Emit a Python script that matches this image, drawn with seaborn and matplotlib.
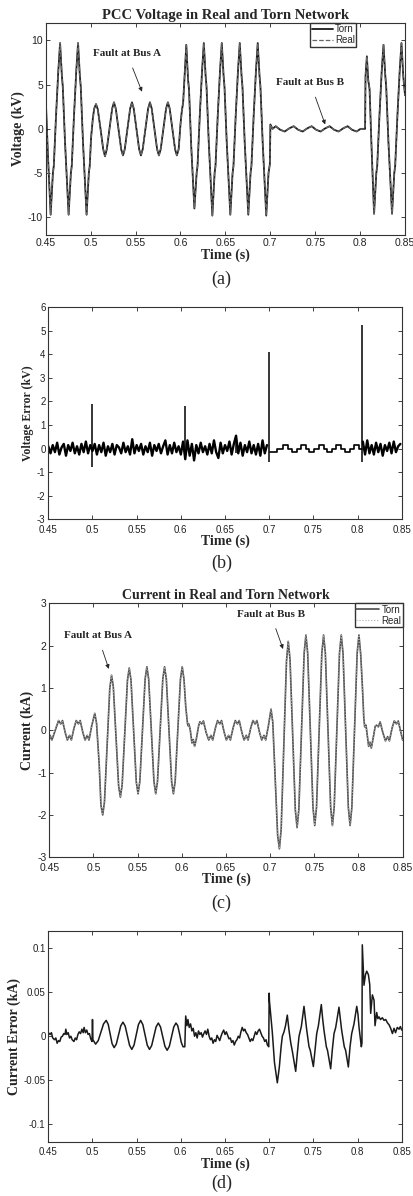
import numpy as np
import pandas as pd
import matplotlib
matplotlib.use("Agg")
import matplotlib.pyplot as plt
import seaborn as sns

# ---------------- data ----------------
# (a) PCC voltage, kV  (knots of the waveform)
volt_t = [0.450, 0.4525, 0.4555, 0.458, 0.459, 0.4615, 0.464, 0.466, 0.468, 0.469, 0.4715,
          0.4755, 0.478, 0.479, 0.4815, 0.484, 0.486, 0.488, 0.489, 0.4915,
          0.4955, 0.498, 0.499, 0.5005,
          0.5025, 0.504, 0.506, 0.508, 0.511, 0.514, 0.516, 0.518, 0.521, 0.524, 0.526, 0.528,
          0.531, 0.534, 0.536, 0.538, 0.541, 0.544, 0.546, 0.548, 0.551, 0.554, 0.556, 0.558,
          0.561, 0.564, 0.566, 0.568, 0.571, 0.574, 0.576, 0.578, 0.581, 0.584, 0.586, 0.588,
          0.591, 0.594, 0.596, 0.598, 0.600, 0.6015, 0.603,
          0.6065, 0.6085, 0.6095, 0.612, 0.6155, 0.618, 0.619, 0.6215, 0.624, 0.626, 0.628, 0.629,
          0.6315, 0.6355, 0.638, 0.639, 0.6415, 0.644, 0.646, 0.648, 0.649, 0.6515,
          0.6555, 0.658, 0.659, 0.6615, 0.664, 0.666, 0.668, 0.669, 0.6715,
          0.6755, 0.678, 0.679, 0.6815, 0.684, 0.686, 0.688, 0.689, 0.6915,
          0.6955, 0.698, 0.6995, 0.7001,
          0.7025, 0.706, 0.711, 0.716, 0.721, 0.726, 0.731, 0.736, 0.741, 0.746, 0.751,
          0.756, 0.761, 0.766, 0.771, 0.776, 0.781, 0.786, 0.791, 0.796, 0.8005, 0.8055,
          0.806, 0.8075, 0.809, 0.8105, 0.8125, 0.8155, 0.818, 0.819, 0.8215, 0.824, 0.826,
          0.828, 0.829, 0.8315, 0.8355, 0.838, 0.839, 0.8415, 0.844, 0.846, 0.848, 0.849, 0.850]
volt_v = [3.5, -3.0, -9.7, -5.0, -4.2, 1.5, 6.5, 9.7, 6.0, 4.8, -1.5,
          -9.7, -5.0, -4.2, 1.5, 6.5, 9.7, 6.0, 4.8, -1.5,
          -9.7, -5.0, -4.2, -1.0,
          1.2, 2.3, 2.8, 2.2, 0.0, -2.3, -3.1, -2.3, 0.0, 2.3, 3.0, 2.3,
          0.0, -2.3, -3.0, -2.3, 0.0, 2.3, 3.0, 2.3, 0.0, -2.3, -3.0, -2.3,
          0.0, 2.3, 3.0, 2.3, 0.0, -2.3, -3.0, -2.3, 0.0, 2.3, 3.0, 2.3,
          0.0, -2.3, -3.0, -2.3, 0.5, 2.0, 3.0,
          9.5, 5.5, 4.5, -2.0, -9.0, -5.0, -4.2, 1.5, 6.5, 9.7, 6.0, 4.8,
          -1.5, -9.8, -5.0, -4.2, 1.5, 6.5, 9.7, 6.0, 4.8, -1.5,
          -9.7, -5.0, -4.2, 1.5, 6.5, 9.7, 6.0, 4.8, -1.5,
          -9.7, -5.0, -4.2, 1.5, 6.5, 9.7, 6.0, 4.8, -1.5,
          -9.8, -5.0, -4.0, 0.5,
          0.0, 0.3, -0.1, -0.3, 0.05, 0.3, -0.1, -0.3, 0.05, 0.3, -0.1,
          -0.3, 0.05, 0.3, -0.1, -0.3, 0.05, 0.3, -0.1, -0.3, 0.0, 0.0,
          6.0, 8.2, 5.5, 4.5, -1.5, -9.6, -5.0, -4.2, 1.5, 6.5, 9.5,
          6.0, 4.8, -1.5, -9.6, -5.0, -4.2, 1.5, 6.5, 9.7, 6.0, 4.8, 3.8]

# (b) voltage error, kV
verr_noise = [0.10, -0.20, 0.15, -0.15, 0.25, -0.25, 0.05, 0.20, -0.30, 0.15,
              -0.10, 0.25, -0.20, 0.10, -0.25, 0.20, -0.15, 0.30, -0.20, 0.15,
              -0.10, 0.20, -0.25, 0.15, -0.15, 0.25, -0.30, 0.10, -0.15, 0.20,
              -0.25, 0.15, 0.05, -0.20, 0.25, -0.15, 0.10, -0.25, 0.40, -0.20,
              0.15, -0.10, 0.20, -0.25, 0.10, -0.15, 0.25, -0.30, 0.15, -0.10,
              0.20, -0.20, 0.10, 0.35, -0.25, 0.15, -0.20, 0.25, -0.15, 0.10,
              -0.25, 0.30, -0.45, 0.35, -0.30, 0.20, -0.50, 0.15, -0.20, 0.25,
              -0.15, 0.10, -0.25, 0.20, -0.20, 0.35, -0.15, -0.40, 0.25, -0.20,
              0.15, -0.10, 0.30, -0.25, 0.20, 0.55, -0.20, 0.25, -0.30, 0.15,
              -0.15, 0.30, -0.20, 0.15, -0.25, 0.20, -0.30, 0.35, -0.20, 0.15]
verr_step_t = [0.7005, 0.709, 0.716, 0.7215, 0.7255, 0.731, 0.736, 0.7415, 0.7455, 0.751,
               0.756, 0.7615, 0.7655, 0.771, 0.776, 0.7815, 0.7855, 0.791, 0.796, 0.8015, 0.805]
verr_step_v = [-0.15, 0.0, 0.15, 0.0, -0.15, 0.0, 0.15, 0.0, -0.15, 0.0,
               0.15, 0.0, -0.15, 0.0, 0.15, 0.0, -0.15, 0.0, 0.15, 0.0, 0.0]
verr_tail = [0.30, -0.25, 0.35, -0.20, 0.15, -0.25, 0.25, -0.15, 0.20,
             -0.30, 0.15, -0.10, 0.25, -0.20, 0.30, -0.15, 0.10, 0.20]
spike_t = [0.500, 0.6045, 0.662, 0.700, 0.805]
spike_hi = [1.9, 1.8, 0.55, 4.1, 5.25]
spike_lo = [-0.8, -0.45, -0.2, -0.55, -0.55]

# (c) current, kA
curr_t = [0.450, 0.451, 0.453, 0.4575, 0.4605, 0.463, 0.465, 0.468, 0.4705, 0.473, 0.475,
          0.478, 0.4805, 0.483, 0.485, 0.488, 0.4905, 0.493, 0.495, 0.498, 0.5015,
          0.5035, 0.5065, 0.5085, 0.5105, 0.5125, 0.5155, 0.5185, 0.5205, 0.5225, 0.5255,
          0.5285, 0.5305, 0.5325, 0.5355, 0.5385, 0.5405, 0.5425, 0.5455, 0.5485, 0.5505,
          0.5525, 0.5555, 0.5585, 0.5605, 0.5625, 0.5655, 0.5685, 0.5705, 0.5725, 0.5755,
          0.5785, 0.5805, 0.5825, 0.5855, 0.5885, 0.5905, 0.5925, 0.5955, 0.5985, 0.6005,
          0.6025, 0.6045, 0.6065, 0.6075, 0.608, 0.6095, 0.6115, 0.613, 0.6145, 0.6165,
          0.619, 0.6205, 0.6225, 0.6245, 0.6275, 0.6305, 0.633, 0.635, 0.638,
          0.6405, 0.643, 0.645, 0.648, 0.6505, 0.653, 0.655, 0.658,
          0.6605, 0.663, 0.665, 0.668, 0.6705, 0.673, 0.675, 0.678,
          0.6805, 0.683, 0.685, 0.688, 0.6905, 0.693, 0.695, 0.698, 0.701,
          0.703, 0.7058, 0.7085, 0.7105, 0.7125, 0.7155, 0.7185, 0.7205, 0.7225, 0.7255,
          0.7285, 0.7305, 0.7325, 0.7355, 0.7385, 0.7405, 0.7425, 0.7455, 0.7485, 0.7505,
          0.7525, 0.7555, 0.7585, 0.7605, 0.7625, 0.7655, 0.7685, 0.7705, 0.7725, 0.7755,
          0.7785, 0.7805, 0.7825, 0.7855, 0.7885, 0.7905, 0.7925, 0.7955, 0.7985, 0.8005,
          0.8025, 0.8045, 0.806, 0.807, 0.8085, 0.8095, 0.8115, 0.813, 0.8145, 0.8165,
          0.819, 0.8205, 0.8225, 0.8245, 0.8275, 0.8305, 0.833, 0.835, 0.838,
          0.8405, 0.843, 0.845, 0.848, 0.850]
curr_v = [-0.22, -0.12, -0.23, 0.05, 0.23, 0.15, 0.23, -0.05, -0.23, -0.12, -0.23,
          0.05, 0.23, 0.15, 0.23, -0.05, -0.23, -0.12, -0.23, 0.10, 0.40,
          0.17, -0.80, -1.77, -2.00, -1.69, -0.35, 0.99, 1.30, 1.03, -0.14,
          -1.31, -1.58, -1.29, -0.05, 1.18, 1.47, 1.19, -0.02, -1.22, -1.50,
          -1.21, 0.00, 1.21, 1.50, 1.21, 0.00, -1.21, -1.50, -1.21, 0.00,
          1.21, 1.50, 1.21, 0.00, -1.21, -1.50, -1.21, 0.00, 1.21, 1.50,
          1.20, 0.55, 0.15, 0.10, 0.15, 0.02, -0.30, -0.22, -0.38, -0.20,
          0.10, 0.20, 0.15, 0.22, -0.05, -0.23, -0.12, -0.23, 0.05,
          0.23, 0.15, 0.23, -0.05, -0.23, -0.12, -0.23, 0.05,
          0.23, 0.15, 0.23, -0.05, -0.23, -0.12, -0.23, 0.05,
          0.23, 0.15, 0.23, -0.05, -0.23, -0.12, -0.23, 0.10, 0.50,
          0.19, -1.15, -2.49, -2.80, -2.33, -0.35, 1.63, 2.10, 1.68, -0.10,
          -1.88, -2.30, -1.87, -0.03, 1.82, 2.25, 1.82, 0.00, -1.82, -2.25,
          -1.82, 0.00, 1.82, 2.25, 1.82, 0.00, -1.82, -2.25, -1.82, 0.00,
          1.82, 2.25, 1.82, 0.00, -1.82, -2.25, -1.82, 0.00, 1.82, 2.25,
          1.80, 1.00, 0.30, 0.08, 0.12, -0.05, -0.38, -0.28, -0.42, -0.20,
          0.10, 0.12, 0.08, 0.20, -0.05, -0.25, -0.15, -0.25, 0.05,
          0.22, 0.15, 0.22, -0.05, -0.23]

# (d) current error, kA
cerr_t = [0.450, 0.452, 0.4535, 0.455, 0.457, 0.4585, 0.460, 0.4615, 0.463, 0.4645, 0.466,
          0.4675, 0.469, 0.4698, 0.471, 0.4725, 0.474, 0.4755, 0.477, 0.479, 0.4805, 0.482,
          0.4835, 0.485, 0.4865, 0.488, 0.4895, 0.4905, 0.492, 0.4935, 0.495, 0.4965, 0.498,
          0.4995, 0.500, 0.5005,
          0.5035, 0.5065, 0.5095, 0.5125, 0.5155, 0.5178, 0.520, 0.5222, 0.5245,
          0.527, 0.5295, 0.532, 0.5345, 0.537, 0.5395, 0.542, 0.5445, 0.547, 0.5495, 0.552, 0.5545,
          0.557, 0.5595, 0.562, 0.5645, 0.567, 0.5695, 0.572, 0.5745, 0.577, 0.5795, 0.582, 0.5845,
          0.587, 0.5895, 0.592, 0.5945, 0.5965, 0.5985, 0.6005, 0.6025, 0.6045, 0.6055,
          0.607, 0.608, 0.6095, 0.611, 0.6125, 0.614, 0.6155, 0.617, 0.6185, 0.620, 0.6215,
          0.623, 0.6245, 0.626, 0.6275, 0.629, 0.6305, 0.632, 0.6335, 0.635, 0.6365, 0.638,
          0.6395, 0.641, 0.6425, 0.644, 0.6455, 0.647, 0.6485, 0.650, 0.6515, 0.653, 0.6545,
          0.656, 0.6575, 0.659, 0.6605, 0.662, 0.6635, 0.665, 0.6665, 0.668, 0.6695, 0.671,
          0.6725, 0.674, 0.6755, 0.677, 0.6785, 0.680, 0.6815, 0.683, 0.6845, 0.686, 0.6875,
          0.689, 0.6905, 0.692, 0.6935, 0.695, 0.6965, 0.698, 0.6995, 0.700, 0.7003,
          0.7035, 0.706, 0.7092, 0.7115, 0.7135, 0.7149, 0.7168, 0.7185, 0.7205, 0.7224,
          0.7245, 0.7262, 0.730, 0.7318, 0.7338, 0.7364, 0.7394, 0.741, 0.7425, 0.7451,
          0.7465, 0.750, 0.752, 0.7538, 0.7557, 0.759, 0.7605, 0.762, 0.7647, 0.766,
          0.7696, 0.7715, 0.7734, 0.7753, 0.779, 0.7805, 0.782, 0.785, 0.7865, 0.7896,
          0.7915, 0.7934, 0.796, 0.7991, 0.8005, 0.8017, 0.8043, 0.805, 0.8054, 0.8073,
          0.809, 0.8104, 0.8123, 0.8138, 0.8149, 0.8168, 0.8187, 0.8198, 0.8217, 0.823,
          0.8243, 0.826, 0.8281, 0.830, 0.8319, 0.834, 0.8357, 0.8375, 0.8395, 0.8413,
          0.843, 0.845, 0.847, 0.8485, 0.850]
cerr_v = [0.004, 0.002, 0.004, -0.002, -0.004, -0.002, -0.008, -0.005, -0.006, -0.001, 0.0,
          0.003, 0.002, 0.008, 0.002, 0.004, -0.002, 0.0, -0.004, -0.006, -0.002, -0.004,
          0.002, 0.005, 0.003, 0.008, 0.004, 0.010, 0.004, 0.007, 0.002, 0.003, -0.003,
          -0.006, 0.019, -0.004,
          -0.009, -0.005, 0.0045, 0.014, 0.018, 0.0135, 0.0025, -0.0085, -0.013,
          -0.0088, 0.0015, 0.0118, 0.016, 0.0115, 0.0005, -0.0105, -0.015, -0.0102, 0.0015, 0.0132, 0.018,
          0.0132, 0.0015, -0.0102, -0.015, -0.0106, 0.0, 0.0106, 0.015, 0.0105, -0.0005, -0.0115, -0.016,
          -0.0115, -0.0005, 0.0105, 0.015, 0.012, 0.003, -0.007, -0.012, -0.012, 0.023,
          0.012, 0.019, 0.010, 0.014, 0.006, 0.009, 0.0, 0.004, -0.002, 0.006, 0.002,
          0.004, -0.001, 0.003, 0.006, 0.002, 0.008, 0.0, -0.004, -0.002, -0.008, -0.004,
          -0.006, 0.001, -0.002, -0.005, 0.0, 0.004, 0.007, 0.002, 0.005, 0.001, -0.003,
          -0.002, -0.007, -0.005, -0.010, -0.006, -0.004, 0.0, -0.002, 0.005, 0.010, 0.006,
          0.008, 0.004, 0.002, -0.002, -0.006, -0.003, -0.005, 0.0, 0.005, 0.002, 0.006,
          0.008, 0.004, 0.0, -0.002, -0.006, -0.004, -0.010, -0.012, 0.049, 0.040,
          0.005, -0.030, -0.053, -0.035, -0.012, 0.0, 0.005, 0.012, 0.024, 0.007,
          -0.008, -0.017, -0.040, -0.020, 0.0, 0.011, 0.034, 0.020, 0.007, -0.012,
          -0.016, -0.0345, -0.015, 0.003, 0.012, 0.036, 0.020, 0.007, -0.012, -0.016,
          -0.037, -0.015, 0.003, 0.010, 0.033, 0.020, 0.007, -0.012, -0.016, -0.035,
          -0.012, 0.003, 0.014, 0.034, 0.025, 0.010, -0.012, -0.008, 0.104, 0.058,
          0.070, 0.074, 0.070, 0.059, 0.026, 0.047, 0.041, 0.012, 0.027, 0.020,
          0.022, 0.019, 0.021, 0.018, 0.019, 0.015, 0.013, 0.009, 0.003, 0.009,
          0.004, 0.010, 0.008, 0.011, 0.007]

xticks = [0.45, 0.5, 0.55, 0.6, 0.65, 0.7, 0.75, 0.8, 0.85]
xtick_labels = ["0.45", "0.5", "0.55", "0.6", "0.65", "0.7", "0.75", "0.8", "0.85"]

# ---------------- figure ----------------
sns.set_style("ticks")
plt.rcParams["font.family"] = ["Liberation Sans", "DejaVu Sans"]
SERIF = ["Liberation Serif", "DejaVu Serif"]

fig = plt.figure(figsize=(4.14, 11.96), dpi=100)
axA = fig.add_axes([0.1104, 0.8035, 0.868, 0.1775])
axB = fig.add_axes([0.1167, 0.5658, 0.8536, 0.1773])
axC = fig.add_axes([0.1190, 0.2832, 0.8536, 0.2124])
axD = fig.add_axes([0.1167, 0.0454, 0.8536, 0.1764])


def style(ax, ylim, yticks, ylabels, fs_tick, ylab, fs_ylab, xpad=2.5):
    ax.set_xlim(0.45, 0.85)
    ax.set_ylim(*ylim)
    ax.set_xticks(xticks)
    ax.set_xticklabels(xtick_labels)
    ax.set_yticks(yticks)
    ax.set_yticklabels(ylabels)
    ax.tick_params(direction="in", top=True, right=True, length=3, width=0.6,
                   labelsize=fs_tick, pad=2, colors="#222222")
    ax.tick_params(axis="x", pad=xpad)
    for s in ax.spines.values():
        s.set_linewidth(0.8)
        s.set_color("#333333")
    ax.set_xlabel("Time (s)", fontfamily=SERIF, fontweight="bold", fontsize=10, labelpad=0)
    ax.set_ylabel(ylab, fontfamily=SERIF, fontweight="bold", fontsize=fs_ylab, labelpad=2)


arrow = dict(arrowstyle="-|>", color="#222222", lw=0.6, mutation_scale=6, shrinkA=5, shrinkB=0)

# (a)
sns.lineplot(x=volt_t, y=volt_v, ax=axA, estimator=None, sort=False, color="#1a1a1a", lw=1.3, label="Torn")
sns.lineplot(x=volt_t, y=volt_v, ax=axA, estimator=None, sort=False, color="#666666", lw=0.9,
             linestyle="--", label="Real")
style(axA, (-12, 12), [-10, -5, 0, 5, 10], ["-10", "-5", "0", "5", "10"], 7.5, "Voltage (kV)", 10)
axA.set_title("PCC Voltage in Real and Torn Network", fontfamily=SERIF, fontweight="bold",
              fontsize=10.5, pad=3)
axA.legend(loc="upper right", bbox_to_anchor=(0.864, 1.0), borderaxespad=0, fontsize=7,
           handlelength=2.2, handletextpad=0.2, borderpad=0.15, labelspacing=0.1,
           fancybox=False, edgecolor="#333333", framealpha=1)
axA.annotate("Fault at Bus A", xy=(0.5572, 4.2), xytext=(0.5405, 8.5), ha="center", va="center",
             fontfamily=SERIF, fontweight="bold", fontsize=8, arrowprops=arrow)
axA.annotate("Fault at Bus B", xy=(0.7611, 0.5), xytext=(0.7445, 5.2), ha="center", va="center",
             fontfamily=SERIF, fontweight="bold", fontsize=8, arrowprops=arrow)

# (b)
noise_t = np.arange(len(verr_noise)) * 0.0025 + 0.45
tail_t = np.arange(len(verr_tail)) * 0.0025 + 0.806
sns.lineplot(x=noise_t, y=verr_noise, ax=axB, estimator=None, sort=False, color="black", lw=1.7)
sns.lineplot(x=verr_step_t, y=verr_step_v, ax=axB, estimator=None, sort=False, color="black",
             lw=1.2, drawstyle="steps-post")
sns.lineplot(x=tail_t, y=verr_tail, ax=axB, estimator=None, sort=False, color="black", lw=1.7)
axB.vlines(spike_t, spike_lo, spike_hi, color="black", lw=1.1)
style(axB, (-3, 6), list(range(-3, 7)), [str(i) for i in range(-3, 7)], 7, "Voltage Error (kV)", 8.5,
      xpad=4)

# (c)
sns.lineplot(x=curr_t, y=curr_v, ax=axC, estimator=None, sort=False, color="#4d4d4d", lw=1.2, label="Torn")
sns.lineplot(x=curr_t, y=curr_v, ax=axC, estimator=None, sort=False, color="#aaaaaa", lw=0.8,
             linestyle=":", label="Real")
style(axC, (-3, 3), [-3, -2, -1, 0, 1, 2, 3], ["-3", "-2", "-1", "0", "1", "2", "3"], 7.5,
      "Current (kA)", 10, xpad=4)
axC.set_title("Current in Real and Torn Network", fontfamily=SERIF, fontweight="bold",
              fontsize=10, pad=3)
axC.legend(loc="upper right", borderaxespad=0, fontsize=7,
           handlelength=2.4, handletextpad=0.2, borderpad=0.15, labelspacing=0.1,
           fancybox=False, edgecolor="#333333", framealpha=1)
axC.annotate("Fault at Bus A", xy=(0.5174, 1.45), xytext=(0.5048, 2.23), ha="center", va="center",
             fontfamily=SERIF, fontweight="bold", fontsize=8, arrowprops=arrow)
axC.annotate("Fault at Bus B", xy=(0.7146, 1.92), xytext=(0.7006, 2.74), ha="center", va="center",
             fontfamily=SERIF, fontweight="bold", fontsize=8, arrowprops=arrow)

# (d)
sns.lineplot(x=cerr_t, y=cerr_v, ax=axD, estimator=None, sort=False, color="#1a1a1a", lw=1.1)
style(axD, (-0.12, 0.12), [-0.1, -0.05, 0, 0.05, 0.1], ["-0.1", "-0.05", "0", "0.05", "0.1"], 7,
      "Current Error (kA)", 10, xpad=4)

for lab, y in [("(a)", 0.7667), ("(b)", 0.529), ("(c)", 0.245), ("(d)", 0.0109)]:
    fig.text(0.535, y, lab, ha="center", va="center", fontfamily=SERIF, fontsize=13)

fig.savefig("out.png", dpi=100)
